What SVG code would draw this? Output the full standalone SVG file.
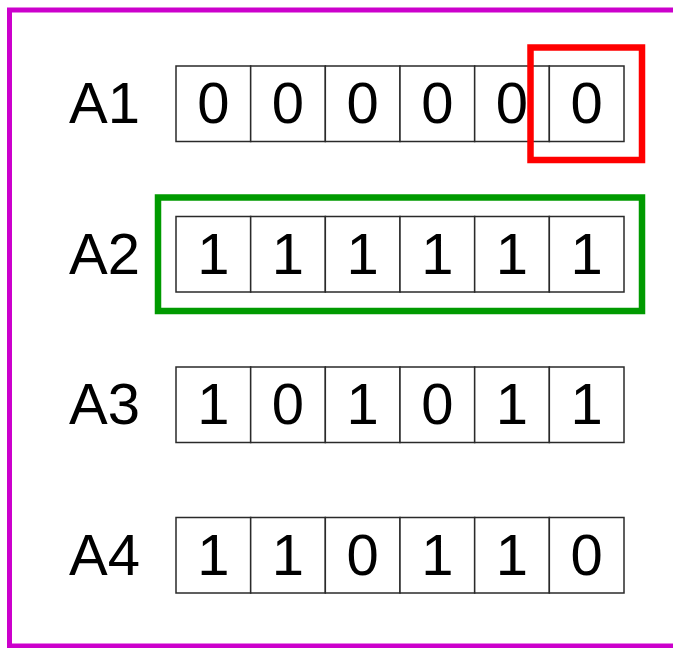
<svg xmlns="http://www.w3.org/2000/svg" width="673" height="648" viewBox="0 0 673 648">
<style>
.cell{fill:#fff;stroke:#2a2a2a;stroke-width:1.5}
.t{font-family:"Liberation Sans",Arial,sans-serif;font-size:58px;fill:#000}
.d{text-anchor:middle}
.hl{fill:none;stroke-width:6.5}
</style>
<defs>
<g id="row">
<rect class="cell" x="176" y="0" width="74.67" height="75.5"/>
<rect class="cell" x="250.67" y="0" width="74.67" height="75.5"/>
<rect class="cell" x="325.33" y="0" width="74.67" height="75.5"/>
<rect class="cell" x="400" y="0" width="74.67" height="75.5"/>
<rect class="cell" x="474.67" y="0" width="74.67" height="75.5"/>
<rect class="cell" x="549.33" y="0" width="74.67" height="75.5"/>
</g>
</defs>
<rect x="0" y="0" width="673" height="648" fill="#fff"/>
<rect id="frame" x="9.5" y="10" width="700" height="636" fill="none" stroke="#cc00cc" stroke-width="5"/>
<g id="A1" transform="translate(0,66)">
<use href="#row"/>
<text class="t" x="69" y="57">A1</text>
<g class="t d"><text x="213.3" y="57">0</text><text x="288" y="57">0</text><text x="362.7" y="57">0</text><text x="437.3" y="57">0</text><text x="512" y="57">0</text><text x="586.7" y="57">0</text></g>
</g>
<g id="A2" transform="translate(0,216.5)">
<use href="#row"/>
<text class="t" x="69" y="57">A2</text>
<g class="t d"><text x="213.3" y="57">1</text><text x="288" y="57">1</text><text x="362.7" y="57">1</text><text x="437.3" y="57">1</text><text x="512" y="57">1</text><text x="586.7" y="57">1</text></g>
</g>
<g id="A3" transform="translate(0,367)">
<use href="#row"/>
<text class="t" x="69" y="57">A3</text>
<g class="t d"><text x="213.3" y="57">1</text><text x="288" y="57">0</text><text x="362.7" y="57">1</text><text x="437.3" y="57">0</text><text x="512" y="57">1</text><text x="586.7" y="57">1</text></g>
</g>
<g id="A4" transform="translate(0,517.5)">
<use href="#row"/>
<text class="t" x="69" y="57">A4</text>
<g class="t d"><text x="213.3" y="57">1</text><text x="288" y="57">1</text><text x="362.7" y="57">0</text><text x="437.3" y="57">1</text><text x="512" y="57">1</text><text x="586.7" y="57">0</text></g>
</g>
<g id="highlights">
<rect id="red-box" class="hl" x="530.5" y="47.5" width="111.5" height="112.5" stroke="#ff0000"/>
<rect id="green-box" class="hl" x="158" y="197.5" width="484" height="113.5" stroke="#009a00"/>
</g>
</svg>
